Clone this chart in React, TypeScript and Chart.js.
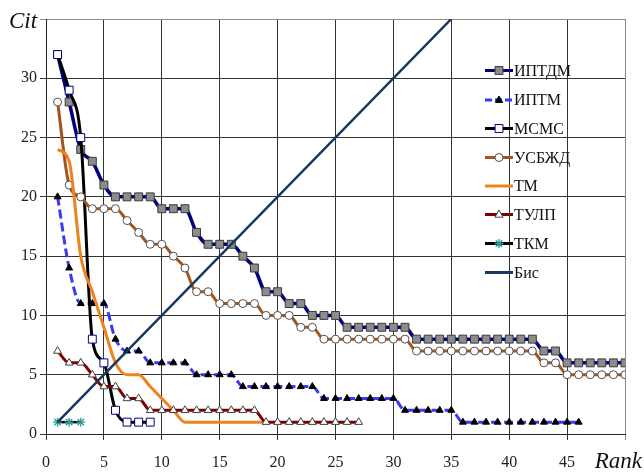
import React, { useEffect, useRef } from 'react';
import { Chart, registerables } from 'chart.js';

Chart.register(...registerables);

const FONT = "'Liberation Serif', 'Times New Roman', serif";

// Series values, rank = index + 1
const iptdm = [32, 28, 24, 23, 21, 20, 20, 20, 20, 19, 19, 19, 17, 16, 16, 16, 15, 14, 12, 12, 11, 11, 10, 10, 10, 9, 9, 9, 9, 9, 9, 8, 8, 8, 8, 8, 8, 8, 8, 8, 8, 8, 7, 7, 6, 6, 6, 6, 6, 6];
const iptm = [20, 14, 11, 11, 11, 8, 7, 7, 6, 6, 6, 6, 5, 5, 5, 5, 4, 4, 4, 4, 4, 4, 4, 3, 3, 3, 3, 3, 3, 3, 2, 2, 2, 2, 2, 1, 1, 1, 1, 1, 1, 1, 1, 1, 1, 1];
const msms = [32, 29, 25, 8, 6, 2, 1, 1, 1];
const usbzhd = [28, 21, 20, 19, 19, 19, 18, 17, 16, 16, 15, 14, 12, 12, 11, 11, 11, 11, 10, 10, 10, 9, 9, 8, 8, 8, 8, 8, 8, 8, 8, 7, 7, 7, 7, 7, 7, 7, 7, 7, 7, 7, 6, 6, 5, 5, 5, 5, 5, 5];
const tm = [24, 23, 15, 12, 9, 6, 5, 5, 4, 3, 2, 1, 1, 1, 1, 1, 1, 1, 1];
const tulp = [7, 6, 6, 5, 4, 4, 3, 3, 2, 2, 2, 2, 2, 2, 2, 2, 2, 2, 1, 1, 1, 1, 1, 1, 1, 1, 1];
const tkm = [1, 1, 1];
const bisX = [1, 35];
const bisY = [1, 35];

const xTicks = [0, 5, 10, 15, 20, 25, 30, 35, 40, 45, 50];
const yTicks = [0, 5, 10, 15, 20, 25, 30, 35];

const seriesNames = ['ИПТДМ', 'ИПТМ', 'МСМС', 'УСБЖД', 'ТМ', 'ТУЛП', 'ТКМ', 'Бис'];

type Style = {
  color: string;
  width: number;
  dash?: number[];
  marker?: string;
  mFill?: string;
  mStroke?: string;
  mRadius?: number;
  smooth: boolean;
};

const styles: Style[] = [
  { color: '#000080', width: 3.5, marker: 'rect', mFill: '#8c8c8c', mStroke: '#3a3a3a', mRadius: 5.6, smooth: true },
  { color: '#3a3af2', width: 3, dash: [9, 4], marker: 'triangle', mFill: '#000000', mStroke: '#000000', mRadius: 4, smooth: true },
  { color: '#000000', width: 3, marker: 'rect', mFill: '#ffffff', mStroke: '#000080', mRadius: 5.6, smooth: true },
  { color: '#a0561c', width: 3, marker: 'circle', mFill: '#ffffff', mStroke: '#505050', mRadius: 4, smooth: true },
  { color: '#f0821e', width: 3, smooth: true },
  { color: '#800000', width: 3, marker: 'triangle', mFill: '#ffffff', mStroke: '#404040', mRadius: 4.5, smooth: true },
  { color: '#000000', width: 2.5, marker: 'star', mFill: '#2e9a9a', mStroke: '#2e9a9a', mRadius: 4.5, smooth: false },
  { color: '#17375e', width: 2.5, smooth: false },
];

const toPts = (vals: number[]) => vals.map((v, i) => ({ x: i + 1, y: v }));

function drawMarker(ctx: CanvasRenderingContext2D, s: Style, x: number, y: number) {
  if (!s.marker) return;
  const r = s.mRadius || 4;
  ctx.save();
  ctx.fillStyle = s.mFill || '#fff';
  ctx.strokeStyle = s.mStroke || '#000';
  ctx.lineWidth = 1;
  ctx.setLineDash([]);
  ctx.beginPath();
  if (s.marker === 'rect') {
    const h = r * Math.SQRT1_2;
    ctx.rect(x - h, y - h, 2 * h, 2 * h);
    ctx.fill();
    ctx.stroke();
  } else if (s.marker === 'circle') {
    ctx.arc(x, y, r, 0, Math.PI * 2);
    ctx.fill();
    ctx.stroke();
  } else if (s.marker === 'triangle') {
    ctx.moveTo(x, y - r);
    ctx.lineTo(x + r * 0.9, y + r * 0.6);
    ctx.lineTo(x - r * 0.9, y + r * 0.6);
    ctx.closePath();
    ctx.fill();
    ctx.stroke();
  } else if (s.marker === 'star') {
    ctx.lineWidth = 1.3;
    for (let k = 0; k < 4; k++) {
      const a = (k * Math.PI) / 4;
      ctx.moveTo(x - Math.cos(a) * r, y - Math.sin(a) * r);
      ctx.lineTo(x + Math.cos(a) * r, y + Math.sin(a) * r);
    }
    ctx.stroke();
  }
  ctx.restore();
}

const overlayPlugin = {
  id: 'overlay',
  afterDraw(chart: any) {
    const ctx: CanvasRenderingContext2D = chart.ctx;
    ctx.save();
    // axis titles
    ctx.fillStyle = '#111';
    ctx.font = `italic 23px ${FONT}`;
    ctx.textBaseline = 'middle';
    ctx.textAlign = 'left';
    ctx.fillText('Cit', 9, 22);
    ctx.textAlign = 'right';
    ctx.fillText('Rank', 642, 462);
    // legend
    const rowsY = [70.5, 100, 128.5, 157.5, 186, 214.5, 243.5, 272.5];
    seriesNames.forEach((name, i) => {
      const s = styles[i];
      const y = rowsY[i];
      ctx.save();
      ctx.strokeStyle = s.color;
      ctx.lineWidth = 3;
      ctx.setLineDash(s.dash ? [7, 3] : []);
      ctx.beginPath();
      ctx.moveTo(485, y);
      ctx.lineTo(513, y);
      ctx.stroke();
      ctx.restore();
      drawMarker(ctx, s, 499, y);
      ctx.fillStyle = '#111';
      ctx.font = `16px ${FONT}`;
      ctx.textAlign = 'left';
      ctx.textBaseline = 'middle';
      ctx.fillText(name, 514, y + 1);
    });
    ctx.restore();
  },
};

export default function App() {
  const ref = useRef<HTMLCanvasElement | null>(null);

  useEffect(() => {
    if (!ref.current) return;
    const seriesData = [toPts(iptdm), toPts(iptm), toPts(msms), toPts(usbzhd), toPts(tm), toPts(tulp), toPts(tkm), bisX.map((x, i) => ({ x, y: bisY[i] }))];
    const datasets = seriesNames.map((name, i) => {
      const s = styles[i];
      return {
        label: name,
        data: seriesData[i],
        borderColor: s.color,
        borderWidth: s.width,
        borderDash: s.dash || [],
        backgroundColor: s.mFill || s.color,
        pointStyle: s.marker === 'star' ? 'star' : s.marker || 'circle',
        pointRadius: s.marker ? s.mRadius : 0,
        pointBackgroundColor: s.mFill,
        pointBorderColor: s.mStroke,
        pointBorderWidth: s.marker === 'star' ? 1.3 : 1,
        cubicInterpolationMode: s.smooth ? 'monotone' : 'default',
        tension: 0,
        fill: false,
        order: seriesNames.length - i,
      };
    });

    const gridColor = (c: any, max: number) =>
      c.tick && c.tick.value === max ? '#8a8a8a' : '#333333';

    const chart = new Chart(ref.current, {
      type: 'line',
      data: { datasets: datasets as any },
      plugins: [overlayPlugin],
      options: {
        animation: false,
        responsive: false,
        events: [],
        layout: { padding: { top: 19, right: 19, left: 0, bottom: 0 } },
        plugins: { legend: { display: false }, tooltip: { enabled: false } },
        scales: {
          x: {
            type: 'linear',
            min: 0,
            max: 50,
            afterBuildTicks: (scale: any) => {
              scale.ticks = xTicks.map((v) => ({ value: v }));
            },
            afterFit: (scale: any) => {
              scale.height = 39;
            },
            ticks: {
              color: '#222',
              font: { family: FONT, size: 16 },
              padding: 13,
              maxRotation: 0,
              callback: (v: any) => (v === 50 ? '' : String(v)),
            },
            grid: {
              color: (c: any) => gridColor(c, 50),
              lineWidth: 1,
              tickLength: 6,
              drawTicks: true,
            },
            border: { color: '#222', width: 1 },
          },
          y: {
            type: 'linear',
            min: 0,
            max: 35,
            afterBuildTicks: (scale: any) => {
              scale.ticks = yTicks.map((v) => ({ value: v }));
            },
            afterFit: (scale: any) => {
              scale.width = 46;
            },
            ticks: {
              color: '#222',
              font: { family: FONT, size: 16 },
              padding: 3,
              callback: (v: any) => (v === 35 ? '' : String(v)),
            },
            grid: {
              color: (c: any) => gridColor(c, 35),
              lineWidth: 1,
              tickLength: 6,
            },
            border: { color: '#222', width: 1 },
          },
        },
      },
    });
    return () => chart.destroy();
  }, []);

  return (
    <div style={{ position: 'fixed', left: 0, top: 0, width: 644, height: 473, background: '#fff' }}>
      <canvas ref={ref} width={644} height={473} style={{ display: 'block' }} />
    </div>
  );
}
